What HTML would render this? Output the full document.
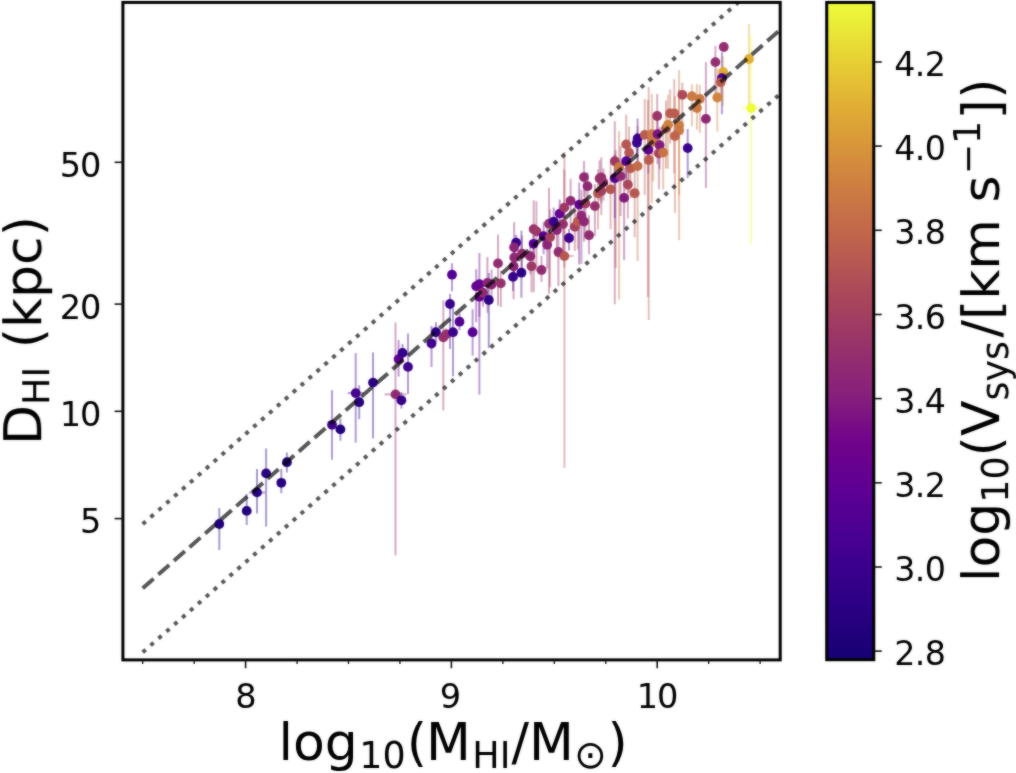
<!DOCTYPE html><html><head><meta charset="utf-8"><title>D_HI vs M_HI</title>
<style>html,body{margin:0;padding:0;background:#fff}svg{display:block}text.t{letter-spacing:-0.6px}text.t2{letter-spacing:-1.3px}text{font-family:"DejaVu Sans","Liberation Sans",sans-serif;fill:#000}</style></head><body>
<svg width="1016" height="773" viewBox="0 0 1016 773">
<rect width="1016" height="773" fill="#fff"/>
<defs><linearGradient id="cb" x1="0" y1="0" x2="0" y2="1"><stop offset="0.000" stop-color="#eefc3a"/><stop offset="0.013" stop-color="#edf639"/><stop offset="0.025" stop-color="#ebf038"/><stop offset="0.037" stop-color="#eaea37"/><stop offset="0.050" stop-color="#e9e437"/><stop offset="0.062" stop-color="#e8dd36"/><stop offset="0.075" stop-color="#e8d735"/><stop offset="0.087" stop-color="#e7d134"/><stop offset="0.100" stop-color="#e6ca34"/><stop offset="0.113" stop-color="#e5c434"/><stop offset="0.125" stop-color="#e4be34"/><stop offset="0.138" stop-color="#e3b834"/><stop offset="0.150" stop-color="#e1b134"/><stop offset="0.163" stop-color="#e0ac35"/><stop offset="0.175" stop-color="#dea736"/><stop offset="0.188" stop-color="#dca237"/><stop offset="0.200" stop-color="#db9d38"/><stop offset="0.212" stop-color="#d99839"/><stop offset="0.225" stop-color="#d7933b"/><stop offset="0.237" stop-color="#d58e3c"/><stop offset="0.250" stop-color="#d3893d"/><stop offset="0.263" stop-color="#d0853f"/><stop offset="0.275" stop-color="#ce8040"/><stop offset="0.287" stop-color="#cc7b42"/><stop offset="0.300" stop-color="#ca7744"/><stop offset="0.312" stop-color="#c87346"/><stop offset="0.325" stop-color="#c66e48"/><stop offset="0.338" stop-color="#c46a4a"/><stop offset="0.350" stop-color="#c1664b"/><stop offset="0.362" stop-color="#be624d"/><stop offset="0.375" stop-color="#bb5e4f"/><stop offset="0.388" stop-color="#b85a51"/><stop offset="0.400" stop-color="#b55652"/><stop offset="0.412" stop-color="#b25154"/><stop offset="0.425" stop-color="#af4e56"/><stop offset="0.438" stop-color="#ac4a59"/><stop offset="0.450" stop-color="#a9465b"/><stop offset="0.463" stop-color="#a6435d"/><stop offset="0.475" stop-color="#a33f5f"/><stop offset="0.487" stop-color="#a03c62"/><stop offset="0.500" stop-color="#9d3865"/><stop offset="0.512" stop-color="#9a3568"/><stop offset="0.525" stop-color="#97326b"/><stop offset="0.537" stop-color="#942e6e"/><stop offset="0.550" stop-color="#912b71"/><stop offset="0.562" stop-color="#8e2874"/><stop offset="0.575" stop-color="#8c2576"/><stop offset="0.588" stop-color="#892279"/><stop offset="0.600" stop-color="#861f7c"/><stop offset="0.613" stop-color="#821a7f"/><stop offset="0.625" stop-color="#7e1582"/><stop offset="0.637" stop-color="#7a0f84"/><stop offset="0.650" stop-color="#760a87"/><stop offset="0.662" stop-color="#720589"/><stop offset="0.675" stop-color="#6f038b"/><stop offset="0.688" stop-color="#6c028d"/><stop offset="0.700" stop-color="#68018f"/><stop offset="0.713" stop-color="#650190"/><stop offset="0.725" stop-color="#620092"/><stop offset="0.738" stop-color="#5e0093"/><stop offset="0.750" stop-color="#5b0093"/><stop offset="0.762" stop-color="#570093"/><stop offset="0.775" stop-color="#540092"/><stop offset="0.787" stop-color="#500092"/><stop offset="0.800" stop-color="#4c0092"/><stop offset="0.812" stop-color="#480091"/><stop offset="0.825" stop-color="#450090"/><stop offset="0.838" stop-color="#41008f"/><stop offset="0.850" stop-color="#3d008e"/><stop offset="0.863" stop-color="#39008c"/><stop offset="0.875" stop-color="#36008a"/><stop offset="0.887" stop-color="#330088"/><stop offset="0.900" stop-color="#300086"/><stop offset="0.912" stop-color="#2d0084"/><stop offset="0.925" stop-color="#290082"/><stop offset="0.938" stop-color="#26007f"/><stop offset="0.950" stop-color="#23007d"/><stop offset="0.963" stop-color="#1f007b"/><stop offset="0.975" stop-color="#1c0078"/><stop offset="0.988" stop-color="#190076"/><stop offset="1.000" stop-color="#160074"/></linearGradient><filter id="soft" x="-2%" y="-2%" width="104%" height="104%" color-interpolation-filters="sRGB"><feGaussianBlur stdDeviation="0.9" result="b"/><feComposite in="b" in2="SourceGraphic" operator="arithmetic" k1="0" k2="0.45" k3="0.55" k4="0"/></filter>
<clipPath id="ax"><rect x="122.9" y="2.4" width="657.3000000000001" height="657.5"/></clipPath></defs>
<g filter="url(#soft)">
<g clip-path="url(#ax)">
<g stroke-width="2.0" stroke-opacity="0.4" fill="none"><line x1="219.3" y1="508.0" x2="219.3" y2="550.0" stroke="#22007c"/><line x1="246.7" y1="493.9" x2="246.7" y2="524.9" stroke="#22007c"/><line x1="257.0" y1="468.9" x2="257.0" y2="513.4" stroke="#270080"/><line x1="249.0" y1="492.4" x2="265.0" y2="492.4" stroke="#270080"/><line x1="266.1" y1="448.4" x2="266.1" y2="526.4" stroke="#270080"/><line x1="281.3" y1="468.8" x2="281.3" y2="493.3" stroke="#270080"/><line x1="286.9" y1="452.6" x2="286.9" y2="472.5" stroke="#22007c"/><line x1="332.0" y1="390.2" x2="332.0" y2="459.8" stroke="#3e008e"/><line x1="340.4" y1="418.4" x2="340.4" y2="440.7" stroke="#22007c"/><line x1="355.7" y1="353.1" x2="355.7" y2="442.6" stroke="#440090"/><line x1="347.7" y1="393.1" x2="363.7" y2="393.1" stroke="#440090"/><line x1="359.2" y1="385.2" x2="359.2" y2="419.2" stroke="#270080"/><line x1="373.0" y1="352.6" x2="373.0" y2="438.6" stroke="#2a0082"/><line x1="398.6" y1="340.1" x2="398.6" y2="376.6" stroke="#600093"/><line x1="402.5" y1="343.9" x2="402.5" y2="361.4" stroke="#320088"/><line x1="408.0" y1="333.4" x2="408.0" y2="393.9" stroke="#3e008e"/><line x1="395.5" y1="322.4" x2="395.5" y2="555.4" stroke="#912b71"/><line x1="384.5" y1="394.4" x2="406.5" y2="394.4" stroke="#912b71"/><line x1="401.4" y1="392.0" x2="401.4" y2="408.6" stroke="#37008b"/><line x1="431.5" y1="326.0" x2="431.5" y2="367.0" stroke="#440090"/><line x1="435.9" y1="322.2" x2="435.9" y2="342.2" stroke="#2a0082"/><line x1="443.3" y1="300.3" x2="443.3" y2="410.3" stroke="#96306c"/><line x1="446.2" y1="328.3" x2="446.2" y2="340.3" stroke="#96306c"/><line x1="450.0" y1="294.0" x2="450.0" y2="349.0" stroke="#3a008d"/><line x1="453.0" y1="308.2" x2="453.0" y2="376.2" stroke="#3a008d"/><line x1="459.5" y1="313.2" x2="459.5" y2="330.2" stroke="#520092"/><line x1="472.6" y1="309.2" x2="472.6" y2="355.7" stroke="#550092"/><line x1="452.0" y1="263.2" x2="452.0" y2="291.2" stroke="#530092"/><line x1="476.2" y1="269.2" x2="476.2" y2="322.2" stroke="#68028e"/><line x1="479.4" y1="253.1" x2="479.4" y2="394.6" stroke="#630191"/><line x1="479.4" y1="281.7" x2="479.4" y2="316.7" stroke="#68028e"/><line x1="483.0" y1="280.7" x2="483.0" y2="306.7" stroke="#912b71"/><line x1="487.4" y1="256.9" x2="487.4" y2="312.9" stroke="#8b2477"/><line x1="491.6" y1="269.5" x2="491.6" y2="302.5" stroke="#8b2477"/><line x1="488.8" y1="273.0" x2="488.8" y2="348.0" stroke="#2d0084"/><line x1="498.0" y1="234.4" x2="498.0" y2="305.4" stroke="#912b71"/><line x1="500.8" y1="270.8" x2="500.8" y2="307.0" stroke="#96306c"/><line x1="513.0" y1="264.9" x2="513.0" y2="290.9" stroke="#37008b"/><line x1="521.4" y1="230.7" x2="521.4" y2="297.7" stroke="#2d0084"/><line x1="516.1" y1="234.7" x2="516.1" y2="251.7" stroke="#37008b"/><line x1="514.1" y1="222.3" x2="514.1" y2="277.3" stroke="#8b2477"/><line x1="514.3" y1="243.5" x2="514.3" y2="273.5" stroke="#8e2874"/><line x1="513.6" y1="250.3" x2="513.6" y2="299.3" stroke="#8b2477"/><line x1="522.0" y1="235.6" x2="522.0" y2="275.6" stroke="#912b71"/><line x1="530.3" y1="241.2" x2="530.3" y2="274.2" stroke="#8e2874"/><line x1="531.5" y1="252.3" x2="531.5" y2="292.3" stroke="#9d3865"/><line x1="533.7" y1="200.2" x2="533.7" y2="292.2" stroke="#96306c"/><line x1="536.4" y1="201.3" x2="536.4" y2="271.3" stroke="#9d3865"/><line x1="533.6" y1="231.8" x2="533.6" y2="257.8" stroke="#570092"/><line x1="541.5" y1="256.0" x2="541.5" y2="282.0" stroke="#912b71"/><line x1="543.6" y1="222.2" x2="543.6" y2="254.2" stroke="#570092"/><line x1="547.2" y1="226.8" x2="547.2" y2="268.8" stroke="#8b2477"/><line x1="550.0" y1="209.2" x2="550.0" y2="287.2" stroke="#a4415e"/><line x1="549.0" y1="187.7" x2="549.0" y2="293.7" stroke="#96306c"/><line x1="553.7" y1="207.6" x2="553.7" y2="237.6" stroke="#3a008d"/><line x1="556.8" y1="212.0" x2="556.8" y2="252.0" stroke="#8b2477"/><line x1="559.7" y1="199.6" x2="559.7" y2="231.6" stroke="#630191"/><line x1="563.0" y1="204.1" x2="563.0" y2="254.1" stroke="#96306c"/><line x1="564.3" y1="169.6" x2="564.3" y2="267.6" stroke="#9d3865"/><line x1="558.4" y1="230.0" x2="558.4" y2="286.0" stroke="#912b71"/><line x1="564.4" y1="152.1" x2="564.4" y2="468.1" stroke="#b55652"/><line x1="555.4" y1="256.1" x2="573.4" y2="256.1" stroke="#b55652"/><line x1="569.0" y1="229.0" x2="569.0" y2="250.5" stroke="#3e008e"/><line x1="570.6" y1="178.8" x2="570.6" y2="228.8" stroke="#8e2874"/><line x1="574.8" y1="206.9" x2="574.8" y2="250.9" stroke="#a4415e"/><line x1="577.8" y1="201.5" x2="577.8" y2="249.5" stroke="#ba5c50"/><line x1="579.2" y1="182.6" x2="579.2" y2="264.6" stroke="#600093"/><line x1="581.4" y1="189.7" x2="581.4" y2="263.7" stroke="#8e2874"/><line x1="584.0" y1="205.5" x2="584.0" y2="241.5" stroke="#8e2874"/><line x1="585.4" y1="181.5" x2="585.4" y2="233.5" stroke="#a03c62"/><line x1="584.0" y1="161.1" x2="584.0" y2="197.1" stroke="#912b71"/><line x1="587.5" y1="172.2" x2="587.5" y2="204.2" stroke="#8e2874"/><line x1="589.0" y1="215.2" x2="589.0" y2="254.2" stroke="#912b71"/><line x1="594.9" y1="184.1" x2="594.9" y2="236.1" stroke="#96306c"/><line x1="598.0" y1="169.3" x2="598.0" y2="229.3" stroke="#b55652"/><line x1="599.6" y1="160.5" x2="599.6" y2="200.5" stroke="#96306c"/><line x1="601.3" y1="157.5" x2="601.3" y2="203.5" stroke="#96306c"/><line x1="603.4" y1="168.5" x2="603.4" y2="200.5" stroke="#96306c"/><line x1="601.3" y1="173.0" x2="601.3" y2="215.0" stroke="#a4415e"/><line x1="610.6" y1="163.3" x2="610.6" y2="229.3" stroke="#b55652"/><line x1="614.8" y1="121.2" x2="614.8" y2="304.2" stroke="#9d3865"/><line x1="614.8" y1="154.2" x2="614.8" y2="218.2" stroke="#570092"/><line x1="620.5" y1="146.1" x2="620.5" y2="216.1" stroke="#912b71"/><line x1="619.1" y1="130.9" x2="619.1" y2="299.6" stroke="#cb7943"/><line x1="624.1" y1="167.9" x2="624.1" y2="259.9" stroke="#831b7e"/><line x1="627.9" y1="160.6" x2="627.9" y2="218.6" stroke="#a9475b"/><line x1="634.7" y1="165.2" x2="634.7" y2="237.2" stroke="#b55652"/><line x1="626.2" y1="114.4" x2="626.2" y2="190.4" stroke="#b55652"/><line x1="629.1" y1="126.6" x2="629.1" y2="192.6" stroke="#b55652"/><line x1="626.2" y1="147.2" x2="626.2" y2="179.2" stroke="#520092"/><line x1="630.5" y1="146.3" x2="630.5" y2="198.3" stroke="#ba5c50"/><line x1="637.6" y1="126.1" x2="637.6" y2="261.1" stroke="#c46b49"/><line x1="637.6" y1="118.4" x2="637.6" y2="170.4" stroke="#3a008d"/><line x1="636.9" y1="132.7" x2="636.9" y2="154.7" stroke="#3a008d"/><line x1="644.7" y1="98.9" x2="644.7" y2="194.9" stroke="#ba5c50"/><line x1="648.3" y1="131.8" x2="648.3" y2="173.8" stroke="#600093"/><line x1="648.7" y1="87.0" x2="648.7" y2="320.0" stroke="#ba5c50"/><line x1="651.8" y1="94.1" x2="651.8" y2="203.1" stroke="#cb7943"/><line x1="653.2" y1="113.3" x2="653.2" y2="181.3" stroke="#cb7943"/><line x1="657.5" y1="112.1" x2="657.5" y2="164.1" stroke="#7d1382"/><line x1="659.6" y1="127.2" x2="659.6" y2="169.2" stroke="#831b7e"/><line x1="658.9" y1="129.3" x2="658.9" y2="189.3" stroke="#a6435d"/><line x1="657.2" y1="94.0" x2="657.2" y2="156.0" stroke="#9a3568"/><line x1="663.2" y1="126.6" x2="663.2" y2="189.6" stroke="#c87246"/><line x1="666.0" y1="100.4" x2="666.0" y2="168.4" stroke="#b55652"/><line x1="668.0" y1="94.8" x2="668.0" y2="168.8" stroke="#cf8240"/><line x1="670.1" y1="89.4" x2="670.1" y2="143.4" stroke="#ba5c50"/><line x1="674.2" y1="79.3" x2="674.2" y2="173.3" stroke="#ba5c50"/><line x1="679.1" y1="89.3" x2="679.1" y2="195.3" stroke="#cd7d41"/><line x1="679.1" y1="70.3" x2="679.1" y2="240.3" stroke="#cb7943"/><line x1="674.9" y1="96.0" x2="674.9" y2="213.0" stroke="#bf634d"/><line x1="687.7" y1="129.1" x2="687.7" y2="178.1" stroke="#3a008d"/><line x1="682.3" y1="82.8" x2="682.3" y2="134.8" stroke="#ac4a58"/><line x1="691.9" y1="84.2" x2="691.9" y2="126.2" stroke="#cb7943"/><line x1="699.8" y1="85.0" x2="699.8" y2="133.0" stroke="#cb7943"/><line x1="696.9" y1="84.0" x2="696.9" y2="130.0" stroke="#cb7943"/><line x1="705.9" y1="61.9" x2="705.9" y2="187.9" stroke="#8e2874"/><line x1="717.3" y1="68.5" x2="717.3" y2="131.5" stroke="#d0843f"/><line x1="715.4" y1="46.1" x2="715.4" y2="97.1" stroke="#942e6e"/><line x1="723.8" y1="44.0" x2="723.8" y2="50.0" stroke="#942e6e"/><line x1="723.1" y1="55.9" x2="723.1" y2="105.9" stroke="#dfaa35"/><line x1="721.9" y1="52.2" x2="721.9" y2="114.2" stroke="#440090"/><line x1="720.7" y1="70.3" x2="720.7" y2="98.3" stroke="#ba5c50"/><line x1="749.0" y1="24.0" x2="749.0" y2="109.0" stroke="#e1af34"/><line x1="751.2" y1="36.1" x2="751.2" y2="244.1" stroke="#eefc3a"/><line x1="742.2" y1="108.1" x2="760.2" y2="108.1" stroke="#eefc3a"/><line x1="647.9" y1="100" x2="647.9" y2="297" stroke="#b25254"/><line x1="615.6" y1="150" x2="615.6" y2="268" stroke="#a33f5f"/></g>
<g><circle cx="219.3" cy="524.0" r="4.9" fill="#22007c"/><circle cx="246.7" cy="510.9" r="4.9" fill="#22007c"/><circle cx="257.0" cy="492.4" r="4.9" fill="#270080"/><circle cx="266.1" cy="473.4" r="4.9" fill="#270080"/><circle cx="281.3" cy="482.8" r="4.9" fill="#270080"/><circle cx="286.9" cy="462.2" r="4.9" fill="#22007c"/><circle cx="332.0" cy="424.8" r="4.9" fill="#3e008e"/><circle cx="340.4" cy="429.4" r="4.9" fill="#22007c"/><circle cx="355.7" cy="393.1" r="4.9" fill="#440090"/><circle cx="359.2" cy="402.2" r="4.9" fill="#270080"/><circle cx="373.0" cy="382.6" r="4.9" fill="#2a0082"/><circle cx="398.6" cy="359.1" r="4.9" fill="#600093"/><circle cx="402.5" cy="352.9" r="4.9" fill="#320088"/><circle cx="408.0" cy="366.9" r="4.9" fill="#3e008e"/><circle cx="395.5" cy="394.4" r="4.9" fill="#912b71"/><circle cx="401.4" cy="400.3" r="4.9" fill="#37008b"/><circle cx="431.5" cy="343.5" r="4.9" fill="#440090"/><circle cx="435.9" cy="332.2" r="4.9" fill="#2a0082"/><circle cx="443.3" cy="337.3" r="4.9" fill="#96306c"/><circle cx="446.2" cy="334.3" r="4.9" fill="#96306c"/><circle cx="450.0" cy="304.0" r="4.9" fill="#3a008d"/><circle cx="453.0" cy="332.2" r="4.9" fill="#3a008d"/><circle cx="459.5" cy="321.7" r="4.9" fill="#520092"/><circle cx="472.6" cy="332.2" r="4.9" fill="#550092"/><circle cx="452.0" cy="274.7" r="4.9" fill="#530092"/><circle cx="476.2" cy="286.2" r="4.9" fill="#68028e"/><circle cx="479.4" cy="284.1" r="4.9" fill="#630191"/><circle cx="479.4" cy="296.7" r="4.9" fill="#68028e"/><circle cx="483.0" cy="292.7" r="4.9" fill="#912b71"/><circle cx="487.4" cy="282.9" r="4.9" fill="#8b2477"/><circle cx="491.6" cy="284.5" r="4.9" fill="#8b2477"/><circle cx="488.8" cy="300.0" r="4.9" fill="#2d0084"/><circle cx="498.0" cy="263.4" r="4.9" fill="#912b71"/><circle cx="500.8" cy="283.3" r="4.9" fill="#96306c"/><circle cx="513.0" cy="276.9" r="4.9" fill="#37008b"/><circle cx="521.4" cy="272.7" r="4.9" fill="#2d0084"/><circle cx="516.1" cy="242.7" r="4.9" fill="#37008b"/><circle cx="514.1" cy="247.3" r="4.9" fill="#8b2477"/><circle cx="514.3" cy="257.5" r="4.9" fill="#8e2874"/><circle cx="513.6" cy="266.3" r="4.9" fill="#8b2477"/><circle cx="522.0" cy="253.6" r="4.9" fill="#912b71"/><circle cx="530.3" cy="256.2" r="4.9" fill="#8e2874"/><circle cx="531.5" cy="266.3" r="4.9" fill="#9d3865"/><circle cx="533.7" cy="229.2" r="4.9" fill="#96306c"/><circle cx="536.4" cy="231.3" r="4.9" fill="#9d3865"/><circle cx="533.6" cy="243.8" r="4.9" fill="#570092"/><circle cx="541.5" cy="270.0" r="4.9" fill="#912b71"/><circle cx="543.6" cy="236.2" r="4.9" fill="#570092"/><circle cx="547.2" cy="244.8" r="4.9" fill="#8b2477"/><circle cx="550.0" cy="237.2" r="4.9" fill="#a4415e"/><circle cx="549.0" cy="223.7" r="4.9" fill="#96306c"/><circle cx="553.7" cy="221.6" r="4.9" fill="#3a008d"/><circle cx="556.8" cy="230.0" r="4.9" fill="#8b2477"/><circle cx="559.7" cy="213.6" r="4.9" fill="#630191"/><circle cx="563.0" cy="224.1" r="4.9" fill="#96306c"/><circle cx="564.3" cy="207.6" r="4.9" fill="#9d3865"/><circle cx="558.4" cy="252.0" r="4.9" fill="#912b71"/><circle cx="564.4" cy="256.1" r="4.9" fill="#b55652"/><circle cx="569.0" cy="238.0" r="4.9" fill="#3e008e"/><circle cx="570.6" cy="200.8" r="4.9" fill="#8e2874"/><circle cx="574.8" cy="226.9" r="4.9" fill="#a4415e"/><circle cx="577.8" cy="221.5" r="4.9" fill="#ba5c50"/><circle cx="579.2" cy="204.6" r="4.9" fill="#600093"/><circle cx="581.4" cy="215.7" r="4.9" fill="#8e2874"/><circle cx="584.0" cy="221.5" r="4.9" fill="#8e2874"/><circle cx="585.4" cy="203.5" r="4.9" fill="#a03c62"/><circle cx="584.0" cy="177.1" r="4.9" fill="#912b71"/><circle cx="587.5" cy="186.2" r="4.9" fill="#8e2874"/><circle cx="589.0" cy="235.2" r="4.9" fill="#912b71"/><circle cx="594.9" cy="206.1" r="4.9" fill="#96306c"/><circle cx="598.0" cy="193.3" r="4.9" fill="#b55652"/><circle cx="599.6" cy="178.5" r="4.9" fill="#96306c"/><circle cx="601.3" cy="177.5" r="4.9" fill="#96306c"/><circle cx="603.4" cy="182.5" r="4.9" fill="#96306c"/><circle cx="601.3" cy="191.0" r="4.9" fill="#a4415e"/><circle cx="610.6" cy="189.3" r="4.9" fill="#b55652"/><circle cx="614.8" cy="161.2" r="4.9" fill="#9d3865"/><circle cx="614.8" cy="178.2" r="4.9" fill="#570092"/><circle cx="620.5" cy="176.1" r="4.9" fill="#912b71"/><circle cx="619.1" cy="166.9" r="4.9" fill="#cb7943"/><circle cx="624.1" cy="197.9" r="4.9" fill="#831b7e"/><circle cx="627.9" cy="184.6" r="4.9" fill="#a9475b"/><circle cx="634.7" cy="193.2" r="4.9" fill="#b55652"/><circle cx="626.2" cy="144.4" r="4.9" fill="#b55652"/><circle cx="629.1" cy="152.6" r="4.9" fill="#b55652"/><circle cx="626.2" cy="161.2" r="4.9" fill="#520092"/><circle cx="630.5" cy="168.3" r="4.9" fill="#ba5c50"/><circle cx="637.6" cy="166.1" r="4.9" fill="#c46b49"/><circle cx="637.6" cy="138.4" r="4.9" fill="#3a008d"/><circle cx="636.9" cy="142.7" r="4.9" fill="#3a008d"/><circle cx="644.7" cy="134.9" r="4.9" fill="#ba5c50"/><circle cx="648.3" cy="149.8" r="4.9" fill="#600093"/><circle cx="648.7" cy="160.0" r="4.9" fill="#ba5c50"/><circle cx="651.8" cy="134.1" r="4.9" fill="#cb7943"/><circle cx="653.2" cy="141.3" r="4.9" fill="#cb7943"/><circle cx="657.5" cy="134.1" r="4.9" fill="#7d1382"/><circle cx="659.6" cy="145.2" r="4.9" fill="#831b7e"/><circle cx="658.9" cy="153.3" r="4.9" fill="#a6435d"/><circle cx="657.2" cy="116.0" r="4.9" fill="#9a3568"/><circle cx="663.2" cy="152.6" r="4.9" fill="#c87246"/><circle cx="666.0" cy="128.4" r="4.9" fill="#b55652"/><circle cx="668.0" cy="124.8" r="4.9" fill="#cf8240"/><circle cx="670.1" cy="113.4" r="4.9" fill="#ba5c50"/><circle cx="674.2" cy="113.3" r="4.9" fill="#ba5c50"/><circle cx="679.1" cy="125.3" r="4.9" fill="#cd7d41"/><circle cx="679.1" cy="130.3" r="4.9" fill="#cb7943"/><circle cx="674.9" cy="136.0" r="4.9" fill="#bf634d"/><circle cx="687.7" cy="148.1" r="4.9" fill="#3a008d"/><circle cx="682.3" cy="94.8" r="4.9" fill="#ac4a58"/><circle cx="691.9" cy="96.2" r="4.9" fill="#cb7943"/><circle cx="699.8" cy="99.0" r="4.9" fill="#cb7943"/><circle cx="696.9" cy="108.0" r="4.9" fill="#cb7943"/><circle cx="705.9" cy="118.9" r="4.9" fill="#8e2874"/><circle cx="717.3" cy="97.5" r="4.9" fill="#d0843f"/><circle cx="715.4" cy="62.1" r="4.9" fill="#942e6e"/><circle cx="723.8" cy="47.0" r="4.9" fill="#942e6e"/><circle cx="723.1" cy="71.9" r="4.9" fill="#dfaa35"/><circle cx="721.9" cy="78.2" r="4.9" fill="#440090"/><circle cx="720.7" cy="82.3" r="4.9" fill="#ba5c50"/><circle cx="749.0" cy="59.0" r="4.9" fill="#e1af34"/><circle cx="751.2" cy="108.1" r="4.9" fill="#eefc3a"/></g>
<line x1="142.7" y1="588.2" x2="780.7" y2="29.3" stroke="#000" stroke-opacity="0.67" stroke-width="3.95" stroke-dasharray="14.49 6.27"/>
<line x1="142.7" y1="524.1" x2="780.7" y2="-34.8" stroke="#000" stroke-opacity="0.67" stroke-width="3.95" stroke-dasharray="3.97 6.544"/>
<line x1="142.7" y1="652.3" x2="780.7" y2="93.4" stroke="#000" stroke-opacity="0.67" stroke-width="3.95" stroke-dasharray="3.97 6.544"/>
</g>
<rect x="122.9" y="2.4" width="657.3" height="657.5" fill="none" stroke="#000" stroke-width="3.0"/>
<line x1="245.6" y1="659.9" x2="245.6" y2="668.1999999999999" stroke="#111" stroke-width="1.6"/>
<text x="245.9" y="708.2" font-size="33.6" class="" text-anchor="middle">8</text>
<line x1="451.4" y1="659.9" x2="451.4" y2="668.1999999999999" stroke="#111" stroke-width="1.6"/>
<text x="450.4" y="708.2" font-size="33.6" class="" text-anchor="middle">9</text>
<line x1="657.2" y1="659.9" x2="657.2" y2="668.1999999999999" stroke="#111" stroke-width="1.6"/>
<text x="656.9" y="708.2" font-size="33.6" class="t2" text-anchor="middle">10</text>
<line x1="142.7" y1="659.9" x2="142.7" y2="664.0" stroke="#111" stroke-width="1.3"/>
<line x1="194.14999999999998" y1="659.9" x2="194.14999999999998" y2="664.0" stroke="#111" stroke-width="1.3"/>
<line x1="297.05" y1="659.9" x2="297.05" y2="664.0" stroke="#111" stroke-width="1.3"/>
<line x1="348.5" y1="659.9" x2="348.5" y2="664.0" stroke="#111" stroke-width="1.3"/>
<line x1="399.95000000000005" y1="659.9" x2="399.95000000000005" y2="664.0" stroke="#111" stroke-width="1.3"/>
<line x1="502.85" y1="659.9" x2="502.85" y2="664.0" stroke="#111" stroke-width="1.3"/>
<line x1="554.3000000000001" y1="659.9" x2="554.3000000000001" y2="664.0" stroke="#111" stroke-width="1.3"/>
<line x1="605.75" y1="659.9" x2="605.75" y2="664.0" stroke="#111" stroke-width="1.3"/>
<line x1="708.65" y1="659.9" x2="708.65" y2="664.0" stroke="#111" stroke-width="1.3"/>
<line x1="760.1" y1="659.9" x2="760.1" y2="664.0" stroke="#111" stroke-width="1.3"/>
<line x1="114.60000000000001" y1="518.6" x2="122.9" y2="518.6" stroke="#111" stroke-width="1.6"/>
<text x="101.3" y="533.0" font-size="33.6" class="" text-anchor="end">5</text>
<line x1="114.60000000000001" y1="411.3" x2="122.9" y2="411.3" stroke="#111" stroke-width="1.6"/>
<text x="100.0" y="425.7" font-size="33.6" class="t2" text-anchor="end">10</text>
<line x1="114.60000000000001" y1="304.1" x2="122.9" y2="304.1" stroke="#111" stroke-width="1.6"/>
<text x="100.0" y="318.5" font-size="33.6" class="t2" text-anchor="end">20</text>
<line x1="114.60000000000001" y1="162.3" x2="122.9" y2="162.3" stroke="#111" stroke-width="1.6"/>
<text x="100.0" y="176.7" font-size="33.6" class="t2" text-anchor="end">50</text>
<rect x="826.7" y="2.4" width="47.1" height="657.3" fill="url(#cb)" stroke="#000" stroke-width="3.0"/>
<line x1="873.8" y1="651.1" x2="881.8" y2="651.1" stroke="#111" stroke-width="1.6"/>
<text x="894.2" y="665.1" font-size="33.3" class="t">2.8</text>
<line x1="873.8" y1="567.0" x2="881.8" y2="567.0" stroke="#111" stroke-width="1.6"/>
<text x="894.2" y="581.0" font-size="33.3" class="t">3.0</text>
<line x1="873.8" y1="482.8" x2="881.8" y2="482.8" stroke="#111" stroke-width="1.6"/>
<text x="894.2" y="496.8" font-size="33.3" class="t">3.2</text>
<line x1="873.8" y1="398.6" x2="881.8" y2="398.6" stroke="#111" stroke-width="1.6"/>
<text x="894.2" y="412.6" font-size="33.3" class="t">3.4</text>
<line x1="873.8" y1="314.5" x2="881.8" y2="314.5" stroke="#111" stroke-width="1.6"/>
<text x="894.2" y="328.5" font-size="33.3" class="t">3.6</text>
<line x1="873.8" y1="230.3" x2="881.8" y2="230.3" stroke="#111" stroke-width="1.6"/>
<text x="894.2" y="244.3" font-size="33.3" class="t">3.8</text>
<line x1="873.8" y1="146.1" x2="881.8" y2="146.1" stroke="#111" stroke-width="1.6"/>
<text x="894.2" y="160.1" font-size="33.3" class="t">4.0</text>
<line x1="873.8" y1="62.0" x2="881.8" y2="62.0" stroke="#111" stroke-width="1.6"/>
<text x="894.2" y="76.0" font-size="33.3" class="t">4.2</text>
<text x="278.5" y="760" font-size="52">log<tspan font-size="36.4" dy="8" dx="1.5">10</tspan><tspan dy="-8" dx="1.2">(</tspan><tspan dx="-1.2">M</tspan><tspan font-size="36.4" dy="8" dx="1.5">HI</tspan><tspan dy="-8" dx="1.2">/</tspan><tspan dx="-0.2">M</tspan><tspan font-size="39" dy="8" dx="0.5">⊙</tspan><tspan dy="-8" dx="0.5">)</tspan></text>
<text transform="translate(41.2,445) rotate(-90)" font-size="52">D<tspan font-size="36.4" dy="8">HI</tspan><tspan dy="-8" dx="2"> (kpc)</tspan></text>
<text transform="translate(999.1,582) rotate(-90)" font-size="52">log<tspan font-size="36.4" dy="8.7">10</tspan><tspan dy="-8.7">(V</tspan><tspan font-size="36.4" dy="8.7">sys</tspan><tspan dy="-8.7" dx="3.5">/[km s</tspan><tspan font-size="36.4" dy="-19" dx="1">−1</tspan><tspan dy="19" dx="1.2">]</tspan><tspan dx="0.5">)</tspan></text>
</g>
</svg></body></html>
